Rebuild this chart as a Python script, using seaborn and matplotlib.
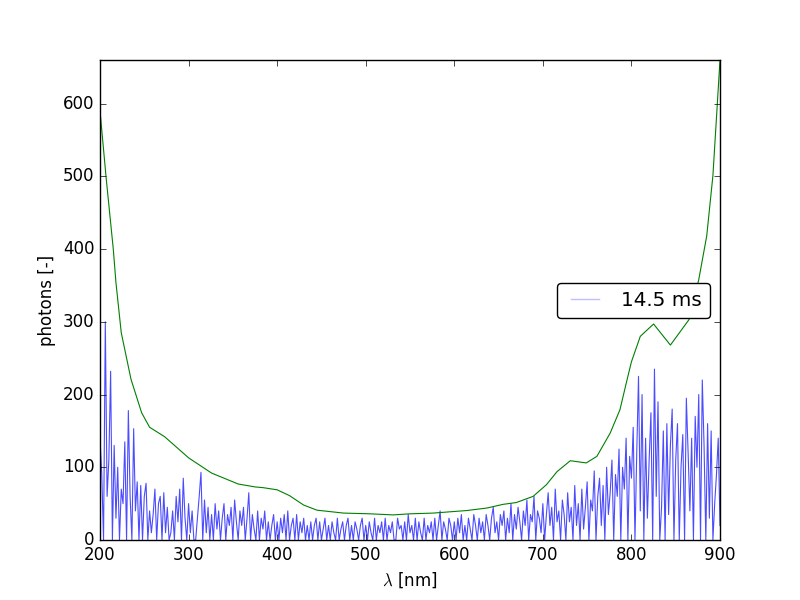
import numpy as np
import pandas as pd
import matplotlib
matplotlib.use("Agg")
import matplotlib.pyplot as plt
import seaborn as sns

plt.style.use("classic")

# Noisy measured spectrum (2 nm sampling from 200 to 900 nm)
photons = [
    140, 90, 0, 300, 60, 110, 232, 0, 130, 30,
    100, 0, 70, 50, 135, 0, 178, 60, 0, 153,
    40, 80, 0, 75, 0, 60, 78, 0, 40, 10,
    35, 70, 0, 50, 60, 0, 65, 10, 45, 0,
    10, 40, 0, 60, 25, 70, 0, 85, 30, 0,
    50, 10, 40, 0, 0, 30, 60, 93, 0, 55,
    10, 45, 0, 35, 0, 50, 15, 40, 0, 30,
    50, 0, 35, 20, 45, 0, 55, 25, 0, 40,
    20, 45, 0, 30, 65, 0, 35, 15, 0, 40,
    0, 30, 15, 40, 0, 25, 0, 20, 35, 0,
    25, 0, 30, 10, 35, 0, 40, 0, 20, 30,
    0, 35, 0, 25, 10, 30, 0, 20, 0, 25,
    0, 20, 30, 0, 25, 0, 15, 30, 0, 20,
    0, 25, 10, 0, 30, 0, 15, 25, 0, 20,
    30, 0, 20, 0, 25, 15, 0, 20, 30, 0,
    20, 0, 25, 10, 0, 30, 0, 20, 10, 25,
    0, 30, 0, 20, 10, 25, 0, 0, 30, 15,
    20, 0, 25, 0, 35, 10, 20, 0, 30, 0,
    25, 10, 0, 30, 0, 20, 10, 25, 0, 30,
    0, 20, 40, 0, 25, 15, 0, 30, 20, 0,
    25, 0, 30, 10, 35, 0, 20, 0, 30, 15,
    0, 35, 20, 0, 30, 10, 25, 0, 35, 20,
    0, 30, 45, 10, 25, 0, 35, 20, 40, 0,
    30, 10, 50, 0, 35, 15, 45, 25, 0, 40,
    20, 55, 0, 35, 25, 60, 0, 40, 30, 10,
    50, 0, 35, 65, 20, 45, 0, 70, 25, 40,
    0, 55, 35, 0, 65, 25, 45, 0, 75, 20,
    50, 0, 70, 15, 45, 80, 0, 55, 40, 95,
    0, 60, 85, 20, 75, 0, 100, 35, 65, 110,
    0, 90, 60, 125, 0, 100, 70, 140, 0, 115,
    85, 155, 0, 120, 225, 40, 200, 0, 140, 30,
    110, 175, 0, 235, 60, 190, 0, 45, 150, 0,
    160, 35, 130, 180, 0, 110, 160, 0, 100, 145,
    0, 195, 120, 40, 140, 0, 170, 100, 200, 0,
    220, 130, 0, 160, 30, 150, 0, 50, 90, 140,
    20,
]
wavelength = np.linspace(200, 900, len(photons))

# Smooth reference curve
ref_wl = [200, 207, 215, 218, 224, 235, 247, 256, 273, 300, 326, 356, 375, 384,
          400, 414, 430, 445, 475, 505, 531, 550, 576, 614, 637, 655, 670, 689,
          704, 716, 731, 749, 761, 776, 787, 795, 800, 810, 825, 844, 865, 876,
          885, 892, 900]
ref_ph = [590, 497, 400, 354, 285, 221, 175, 155, 142, 113, 92, 77, 73, 72,
          69, 61, 48, 41, 37, 36, 34.5, 36, 37, 40.5, 44, 49, 51.5, 60,
          76, 94, 109, 106, 115, 147, 179, 220, 245, 280, 297, 268, 303, 358,
          418, 501, 660]

label = "14.5 ms"

fig = plt.figure(figsize=(8, 6), dpi=100)
ax = fig.add_axes([0.125, 0.1, 0.775, 0.8])

sns.lineplot(x=wavelength, y=photons, ax=ax, color="blue", alpha=0.7,
             linewidth=0.8, label=label, estimator=None, sort=False)
sns.lineplot(x=ref_wl, y=ref_ph, ax=ax, color="green", linewidth=0.8,
             estimator=None, sort=False)

ax.set_xlim(200, 900)
ax.set_ylim(0, 660)
ax.set_xticks([200, 300, 400, 500, 600, 700, 800, 900])
ax.set_yticks([0, 100, 200, 300, 400, 500, 600])
ax.set_xlabel(r"$\lambda$ [nm]")
ax.set_ylabel("photons [-]")

leg = ax.legend(loc="center right", fontsize="large", fancybox=True)
for h in leg.get_lines():
    h.set_alpha(0.25)
    h.set_linewidth(1.0)

fig.savefig("out.png", dpi=100)
